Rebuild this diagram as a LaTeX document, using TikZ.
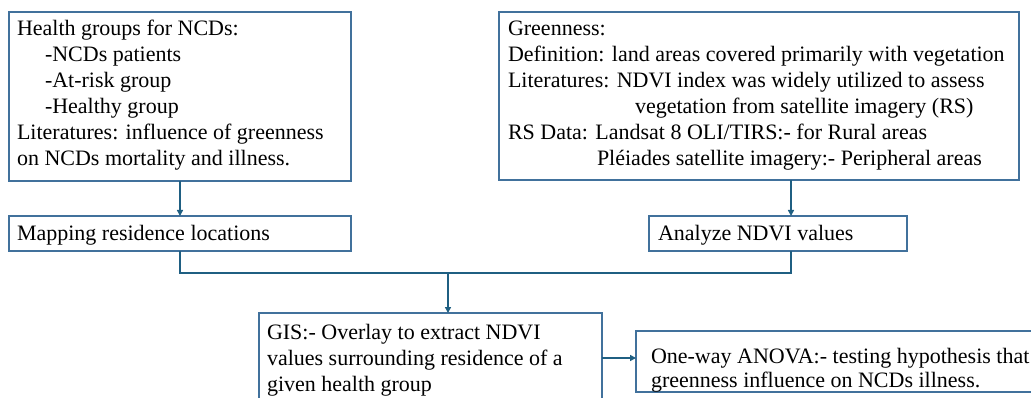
\documentclass[tikz,border=0pt]{standalone}
\usepackage{fontspec}
\setmainfont{Liberation Serif}
\usetikzlibrary{arrows.meta}
\definecolor{boxc}{RGB}{65,113,156}
\definecolor{arrc}{RGB}{31,95,130}
\tikzset{
  boxn/.style={draw=boxc, line width=1.2pt, rectangle, inner sep=0pt, outer sep=0pt, anchor=north west},
  txt/.style={inner sep=0pt, outer sep=0pt, anchor=base west, font=\fontsize{22}{26}\selectfont, text=black},
  conn/.style={draw=arrc, line width=1.5pt},
  arr/.style={conn, -{Triangle[width=6pt,length=6pt]}},
}
\begin{document}
\begin{tikzpicture}[x=1pt,y=-1pt]
\useasboundingbox (0,0) rectangle (1031,398);
\fill[white] (0,0) rectangle (1031,398);
\clip (0,0) rectangle (1031,398);
% boxes
\node[boxn, minimum width=342pt, minimum height=169pt] (b1) at (9,12) {};
\node[boxn, minimum width=342pt, minimum height=35pt] (map) at (9,216) {};
\node[boxn, minimum width=520pt, minimum height=168pt] (b2) at (499,12) {};
\node[boxn, minimum width=258pt, minimum height=35pt] (ana) at (649,216) {};
\node[boxn, minimum width=343pt, minimum height=110pt] (gis) at (259,313) {};
\node[boxn, minimum width=420pt, minimum height=61pt] (anova) at (636,331) {};
% texts box 1
\node[txt] (t11) at (17,36) {Health groups for NCDs:};
\node[txt] (t12) at (45,62) {-NCDs patients};
\node[txt] (t13) at (45,88) {-At-risk group};
\node[txt] (t14) at (45,114) {-Healthy group};
\node[txt] (t15) at (17,140) {Literatures: influence of greenness};
\node[txt] (t16) at (17,166) {on NCDs mortality and illness.};
\node[txt] (tmap) at (17,241) {Mapping residence locations};
% texts box 2
\node[txt] (t21) at (508,36) {Greenness:};
\node[txt] (t22) at (508,62) {Definition: land areas covered primarily with vegetation};
\node[txt] (t23) at (508,88) {Literatures: NDVI index was widely utilized to assess};
\node[txt] (t24) at (635,114) {vegetation from satellite imagery (RS)};
\node[txt] (t25) at (508,140) {RS Data: Landsat 8 OLI/TIRS:- for Rural areas};
\node[txt] (t26) at (597,166) {Pléiades satellite imagery:- Peripheral areas};
\node[txt] (tana) at (658,241) {Analyze NDVI values};
% GIS
\node[txt] (tg1) at (267,339) {GIS:- Overlay to extract NDVI};
\node[txt] (tg2) at (267,365) {values surrounding residence of a};
\node[txt] (tg3) at (267,391) {given health group};
% ANOVA
\node[txt] (ta1) at (651,363) {One-way ANOVA:- testing hypothesis that};
\node[txt] (ta2) at (651,387) {greenness influence on NCDs illness.};
% connector coordinates
\coordinate (xa) at (791,0);
\coordinate (jy) at (0,273);
\coordinate (xg) at (448,0);
\coordinate (ya) at (0,358);
% connectors
\draw[arr] (b1.south) -- (map.north);
\draw[arr] (b2.south -| xa) -- (ana.north -| xa);
\draw[conn] (map.south) -- (map.south |- jy) -- (jy -| xa) -- (ana.south -| xa);
\draw[arr] (jy -| xg) -- (gis.north -| xg);
\draw[arr] (gis.east |- ya) -- (anova.west |- ya);
\end{tikzpicture}
\end{document}
